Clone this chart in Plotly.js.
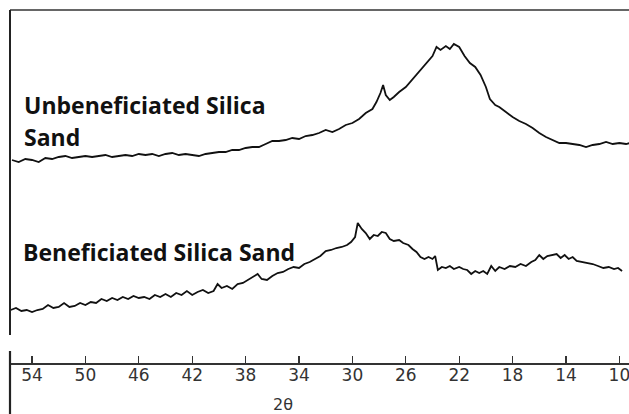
<!DOCTYPE html>
<html>
<head>
<meta charset="utf-8">
<script src="https://cdn.plot.ly/plotly-3.0.1.min.js"></script>
<style>
  html, body { margin: 0; padding: 0; background: #ffffff; }
  #chart { width: 629px; height: 414px; }
</style>
</head>
<body>
<div id="chart"></div>
<script>
// 2-theta positions (degrees) and intensities (arbitrary units)
const unbenTheta = [55.5,55.0,54.5,54.0,53.5,53.0,52.5,52.0,51.5,51.0,50.5,50.0,49.5,49.0,48.5,48.0,47.5,47.0,46.5,46.0,45.5,45.0,44.5,44.0,43.5,43.0,42.5,42.0,41.5,41.0,40.5,40.0,39.5,39.0,38.5,38.0,37.5,37.0,36.5,36.0,35.5,35.0,34.5,34.0,33.5,33.0,32.5,32.0,31.5,31.0,30.5,30.0,29.5,29.0,28.5,28.2,27.9,27.7,27.5,27.2,26.9,26.5,26.0,25.5,25.0,24.5,24.0,23.7,23.4,23.0,22.7,22.4,22.0,21.6,21.2,20.8,20.4,20.0,19.7,19.3,19.0,18.5,18.0,17.5,17.0,16.5,16.0,15.5,15.0,14.5,14.0,13.5,13.0,12.5,12.0,11.5,11.0,10.5,10.0,9.5,9.2];
const unbenInt = [203,201,204,203,201,205,204,206,207,205,206,207,206,207,208,206,207,208,207,209,208,209,207,209,210,208,209,208,207,209,210,211,211,213,213,215,216,216,219,222,222,223,225,224,227,228,230,233,231,234,238,240,244,250,254,261,270,278,268,263,266,271,276,284,292,299,307,316,313,317,314,319,316,307,300,296,288,276,264,258,256,251,246,242,239,235,230,226,223,220,220,219,218,216,218,219,221,219,220,219,220];

const benTheta = [55.6,55.2,54.8,54.4,54.0,53.6,53.2,52.8,52.4,52.0,51.6,51.2,50.8,50.4,50.0,49.6,49.2,48.8,48.4,48.0,47.6,47.2,46.8,46.4,46.0,45.6,45.2,44.8,44.4,44.0,43.6,43.2,42.8,42.4,42.0,41.6,41.2,40.8,40.4,40.1,39.8,39.4,39.0,38.6,38.2,37.8,37.4,37.1,36.8,36.4,36.0,35.6,35.2,34.8,34.4,34.0,33.6,33.2,32.8,32.4,32.0,31.6,31.2,30.8,30.4,30.1,29.8,29.6,29.3,29.0,28.7,28.4,28.1,27.8,27.5,27.2,26.9,26.5,26.2,25.8,25.5,25.2,24.9,24.6,24.3,24.0,23.8,23.6,23.3,23.0,22.7,22.4,22.0,21.7,21.4,21.1,20.8,20.5,20.2,19.9,19.6,19.3,19.0,18.6,18.2,17.8,17.4,17.0,16.6,16.3,16.0,15.7,15.4,15.0,14.7,14.4,14.1,13.8,13.5,13.2,12.8,12.4,12.0,11.6,11.2,10.8,10.4,10.1,9.8];
const benInt = [53,55,52,53,51,53,54,58,55,56,60,56,57,60,58,61,60,64,62,65,63,66,64,67,65,66,64,68,66,69,66,70,68,72,68,71,73,70,72,79,75,77,74,79,80,83,86,89,84,83,87,90,91,94,96,95,99,101,104,107,112,113,115,116,118,121,126,140,134,130,124,128,127,131,130,124,122,123,120,118,114,111,106,104,106,104,107,93,96,95,97,94,96,94,93,89,92,90,92,89,97,92,96,94,97,96,99,97,101,103,108,104,107,108,109,105,108,104,106,102,101,100,99,97,95,96,94,95,92];

const tickValues = [54,50,46,42,38,34,30,26,22,18,14,10];
const tickLabels = ['54','50','46','42','38','34','30','26','22','18','14','10'];
const axisTitle = '2θ';
const labelUnben1 = 'Unbeneficiated Silica';
const labelUnben2 = 'Sand';
const labelBen = 'Beneficiated Silica Sand';

const lineStyle = {color: '#111111', width: 1.8};
const traces = [
  {x: unbenTheta, y: unbenInt, type: 'scatter', mode: 'lines', line: lineStyle, name: 'Unbeneficiated'},
  {x: benTheta, y: benInt, type: 'scatter', mode: 'lines', line: lineStyle, name: 'Beneficiated'}
];

const labelFont = {family: 'Open Sans, sans-serif', size: 23, color: '#111111', weight: 'bold'};
const tickFont = {family: 'DejaVu Sans, sans-serif', size: 17, color: '#333333'};

const layout = {
  width: 629, height: 414,
  margin: {l: 10, r: 0, t: 10, b: 51, pad: 0},
  paper_bgcolor: '#ffffff', plot_bgcolor: '#ffffff',
  showlegend: false,
  hovermode: false,
  xaxis: {
    range: [55.65, 9.28],
    showgrid: false, zeroline: false,
    showline: true, linecolor: '#333333', linewidth: 1.5,
    ticks: 'inside', ticklen: 7, tickwidth: 1.3, tickcolor: '#333333',
    tickmode: 'array', tickvals: tickValues, ticktext: tickLabels,
    tickfont: tickFont, ticklabelstandoff: -4, ticklabeloverflow: 'allow'
  },
  yaxis: {range: [0, 353], visible: false, fixedrange: true},
  shapes: [
    {type: 'line', xref: 'paper', yref: 'paper', x0: 0, x1: 1, y0: 1, y1: 1, line: {color: '#333333', width: 1.5}},
    {type: 'line', xref: 'paper', yref: 'paper', x0: 0, x1: 0, y0: 0.079, y1: 1, line: {color: '#222222', width: 2}},
    {type: 'line', xref: 'paper', yref: 'paper', x0: 0, x1: 0, y0: 0.034, y1: -0.1445, line: {color: '#222222', width: 2.2}}
  ],
  annotations: [
    {text: labelUnben1, xref: 'paper', yref: 'paper', x: 0.0194, y: 0.731, xanchor: 'left', yanchor: 'middle', showarrow: false, font: labelFont},
    {text: labelUnben2, xref: 'paper', yref: 'paper', x: 0.0194, y: 0.640, xanchor: 'left', yanchor: 'middle', showarrow: false, font: labelFont},
    {text: labelBen, xref: 'paper', yref: 'paper', x: 0.0178, y: 0.314, xanchor: 'left', yanchor: 'middle', showarrow: false, font: labelFont},
    {text: axisTitle, xref: 'x', yref: 'paper', x: 35.2, y: -0.117, xanchor: 'center', yanchor: 'middle', showarrow: false, font: {family: 'DejaVu Sans, sans-serif', size: 16, color: '#333333'}}
  ]
};

Plotly.newPlot('chart', traces, layout, {staticPlot: true, displayModeBar: false});
</script>
</body>
</html>
